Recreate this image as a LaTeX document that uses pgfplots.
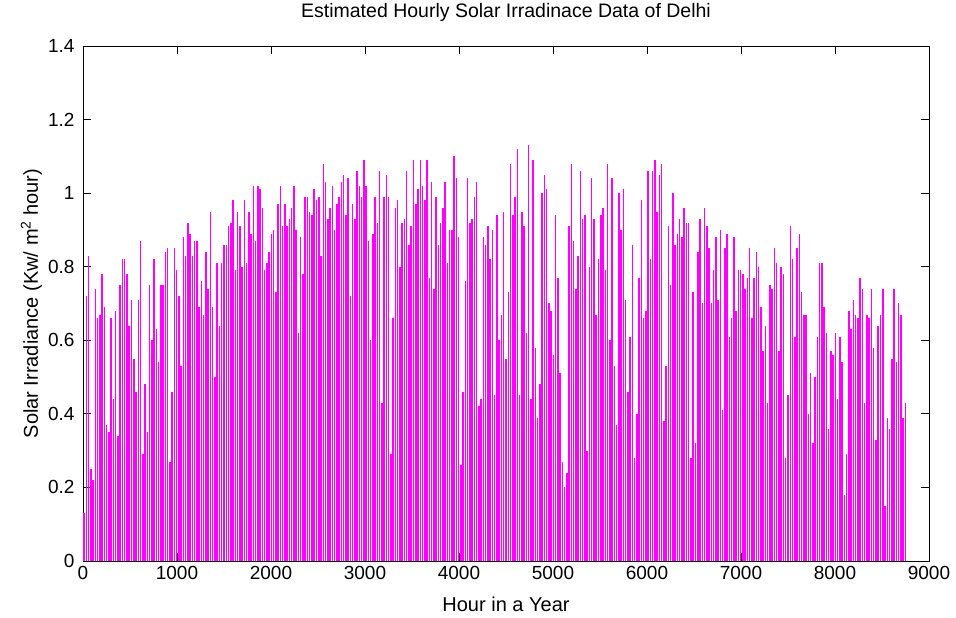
\documentclass[border=0pt]{standalone}
\usepackage{fontspec}
\setmainfont{Liberation Sans}
\usepackage{pgfplots}
\usepackage{pgfplotstable}
\pgfplotsset{compat=1.18}

% daily peak irradiance (hour of the day's noon, kW/m^2)
\pgfplotstableread{
hour value
12 0.13
36 0.72
60 0.83
84 0.25
108 0.22
132 0.74
156 0.66
180 0.67
204 0.78
228 0.69
252 0.37
276 0.35
300 0.66
324 0.44
348 0.68
372 0.34
396 0.75
420 0.82
444 0.82
468 0.78
492 0.64
516 0.71
540 0.55
564 0.46
588 0.71
612 0.87
636 0.29
660 0.48
684 0.35
708 0.75
732 0.60
756 0.82
780 0.63
804 0.54
828 0.75
852 0.75
876 0.84
900 0.85
924 0.27
948 0.46
972 0.85
996 0.79
1020 0.72
1044 0.53
1068 0.88
1092 0.83
1116 0.92
1140 0.89
1164 0.83
1188 0.87
1212 0.87
1236 0.69
1260 0.76
1284 0.67
1308 0.84
1332 0.74
1356 0.95
1380 0.69
1404 0.50
1428 0.81
1452 0.64
1476 0.81
1500 0.86
1524 0.86
1548 0.91
1572 0.92
1596 0.98
1620 0.79
1644 0.95
1668 0.91
1692 0.80
1716 0.98
1740 0.81
1764 0.95
1788 0.89
1812 1.02
1836 0.87
1860 1.02
1884 1.01
1908 0.96
1932 0.79
1956 0.81
1980 0.84
2004 0.89
2028 0.90
2052 0.73
2076 0.97
2100 1.02
2124 0.91
2148 0.97
2172 0.91
2196 0.93
2220 0.96
2244 1.02
2268 0.90
2292 0.62
2316 0.88
2340 0.78
2364 0.99
2388 0.99
2412 0.95
2436 0.94
2460 1.01
2484 0.98
2508 0.99
2532 0.83
2556 1.08
2580 1.03
2604 0.93
2628 0.96
2652 1.02
2676 0.90
2700 0.97
2724 0.99
2748 1.03
2772 1.05
2796 0.94
2820 1.04
2844 0.72
2868 0.97
2892 0.93
2916 1.06
2940 1.02
2964 0.99
2988 1.09
3012 1.02
3036 0.87
3060 0.60
3084 0.89
3108 0.99
3132 0.92
3156 1.06
3180 0.43
3204 0.99
3228 1.05
3252 0.99
3276 0.29
3300 0.66
3324 0.96
3348 0.98
3372 0.80
3396 0.92
3420 0.93
3444 1.06
3468 0.86
3492 0.91
3516 1.09
3540 0.97
3564 1.01
3588 1.09
3612 1.02
3636 0.98
3660 1.09
3684 0.77
3708 1.03
3732 0.74
3756 0.99
3780 0.86
3804 0.92
3828 0.96
3852 1.03
3876 0.81
3900 0.90
3924 0.90
3948 1.10
3972 1.04
3996 0.88
4020 0.26
4044 0.46
4068 0.76
4092 1.04
4116 0.92
4140 0.93
4164 0.99
4188 1.03
4212 0.42
4236 0.44
4260 0.88
4284 0.86
4308 0.91
4332 0.82
4356 0.90
4380 0.45
4404 0.94
4428 0.60
4452 0.67
4476 0.95
4500 0.55
4524 0.73
4548 1.08
4572 0.94
4596 0.99
4620 1.12
4644 0.45
4668 0.95
4692 0.91
4716 0.62
4740 1.13
4764 0.44
4788 1.09
4812 0.58
4836 0.39
4860 0.48
4884 1.00
4908 1.05
4932 1.01
4956 0.70
4980 0.68
5004 0.56
5028 0.94
5052 0.77
5076 0.51
5100 0.27
5124 0.20
5148 0.24
5172 0.91
5196 1.08
5220 0.87
5244 0.74
5268 0.83
5292 1.06
5316 0.93
5340 0.94
5364 0.30
5388 0.80
5412 1.04
5436 0.93
5460 0.67
5484 0.82
5508 0.94
5532 0.96
5556 0.79
5580 1.08
5604 0.60
5628 1.04
5652 0.53
5676 0.37
5700 1.00
5724 0.90
5748 1.01
5772 0.71
5796 0.46
5820 0.61
5844 0.86
5868 0.28
5892 0.40
5916 0.77
5940 0.98
5964 0.66
5988 0.68
6012 1.06
6036 0.82
6060 1.06
6084 1.09
6108 0.95
6132 1.05
6156 1.08
6180 0.38
6204 0.53
6228 0.91
6252 0.75
6276 1.00
6300 0.86
6324 0.89
6348 0.93
6372 0.88
6396 0.96
6420 0.92
6444 0.92
6468 0.28
6492 0.73
6516 0.32
6540 0.84
6564 0.93
6588 0.70
6612 0.96
6636 0.91
6660 0.85
6684 0.70
6708 0.79
6732 0.88
6756 0.71
6780 0.90
6804 0.41
6828 0.85
6852 0.89
6876 0.61
6900 0.66
6924 0.88
6948 0.68
6972 0.79
6996 0.79
7020 0.78
7044 0.74
7068 0.77
7092 0.85
7116 0.66
7140 0.77
7164 0.84
7188 0.80
7212 0.69
7236 0.57
7260 0.64
7284 0.43
7308 0.75
7332 0.74
7356 0.85
7380 0.81
7404 0.57
7428 0.80
7452 0.78
7476 0.28
7500 0.45
7524 0.91
7548 0.82
7572 0.61
7596 0.85
7620 0.89
7644 0.73
7668 0.67
7692 0.67
7716 0.40
7740 0.51
7764 0.32
7788 0.50
7812 0.61
7836 0.81
7860 0.81
7884 0.69
7908 0.62
7932 0.36
7956 0.57
7980 0.56
8004 0.62
8028 0.44
8052 0.61
8076 0.54
8100 0.18
8124 0.29
8148 0.68
8172 0.63
8196 0.71
8220 0.67
8244 0.66
8268 0.77
8292 0.74
8316 0.43
8340 0.67
8364 0.66
8388 0.74
8412 0.58
8436 0.33
8460 0.64
8484 0.67
8508 0.74
8532 0.15
8556 0.39
8580 0.36
8604 0.55
8628 0.74
8652 0.54
8676 0.70
8700 0.67
8724 0.39
8748 0.43
}\solar

\begin{document}
\begin{tikzpicture}
\useasboundingbox (-83bp,-57bp) rectangle (873bp,561bp);
\begin{axis}[
    at={(0,0)}, anchor=south west,
    width=846bp, height=515bp,
    scale only axis,
    xmin=0, xmax=9000,
    ymin=0, ymax=1.4,
    xtick={0,1000,...,9000},
    ytick={0,0.2,...,1.4},
    scaled ticks=false,
    /pgf/number format/1000 sep={},
    /pgf/number format/assume math mode=true,
    tick label style={font=\fontsize{19bp}{22bp}\selectfont},
    yticklabel style={xshift=-5bp},
    xticklabel style={yshift=-2bp},
    major tick length=8bp,
    tick align=inside,
    axis line style={line width=0.8bp},
    every tick/.style={black, line width=0.8bp},
    title={Estimated Hourly Solar Irradinace Data of Delhi},
    title style={font=\fontsize{19.5bp}{23bp}\selectfont, at={(axis description cs:0.5,1)}, anchor=base, yshift=23bp},
    xlabel={Hour in a Year},
    xlabel style={font=\fontsize{20bp}{24bp}\selectfont, at={(axis description cs:0.5,0)}, anchor=base, yshift=-50bp},
    ylabel={Solar Irradiance (Kw/ m\textsuperscript{2} hour)},
    ylabel style={font=\fontsize{20bp}{24bp}\selectfont, at={(axis description cs:0,0.5)}, anchor=base, yshift=45bp},
]
\addplot[ycomb, color={rgb,255:red,255;green,0;blue,255}, line width=1.5bp, line cap=butt, mark=none] table[x=hour, y=value] {\solar};
\end{axis}
\end{tikzpicture}
\end{document}
